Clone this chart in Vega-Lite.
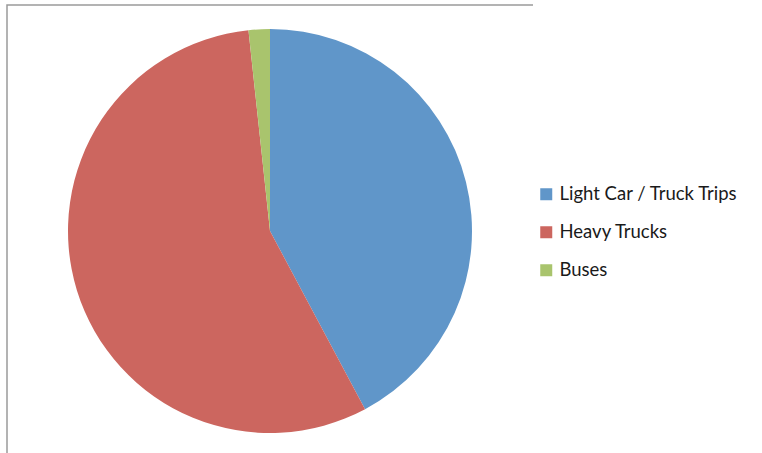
{
  "$schema": "https://vega.github.io/schema/vega-lite/v6.json",
  "autosize": {"type": "none"},
  "width": 526,
  "height": 452,
  "padding": {"left": 7, "top": 5, "right": 229, "bottom": 0},
  "background": "white",
  "view": {"stroke": "#9a9a9a", "strokeWidth": 1.5, "strokeDash": [526, 978, 452]},
  "data": {
    "values": [
      {"category": "Light Car / Truck Trips", "share": 42.2, "idx": 1},
      {"category": "Heavy Trucks", "share": 56.1, "idx": 2},
      {"category": "Buses", "share": 1.7, "idx": 3}
    ]
  },
  "mark": {"type": "arc", "radius": 202},
  "encoding": {
    "theta": {"field": "share", "type": "quantitative", "stack": true},
    "order": {"field": "idx", "type": "quantitative"},
    "color": {
      "field": "category",
      "type": "nominal",
      "sort": ["Light Car / Truck Trips", "Heavy Trucks", "Buses"],
      "scale": {
        "domain": ["Light Car / Truck Trips", "Heavy Trucks", "Buses"],
        "range": ["#6096C9", "#CC665F", "#A9C46D"]
      },
      "legend": {
        "title": null,
        "orient": "none",
        "legendX": 530,
        "legendY": 180,
        "padding": 0,
        "symbolType": "square",
        "symbolSize": 144,
        "symbolStrokeWidth": 0,
        "labelFont": "Lato",
        "labelFontSize": 18.5,
        "labelLimit": 0,
        "labelColor": "#1a1a1a",
        "labelOffset": 4,
        "rowPadding": 19
      }
    }
  }
}
